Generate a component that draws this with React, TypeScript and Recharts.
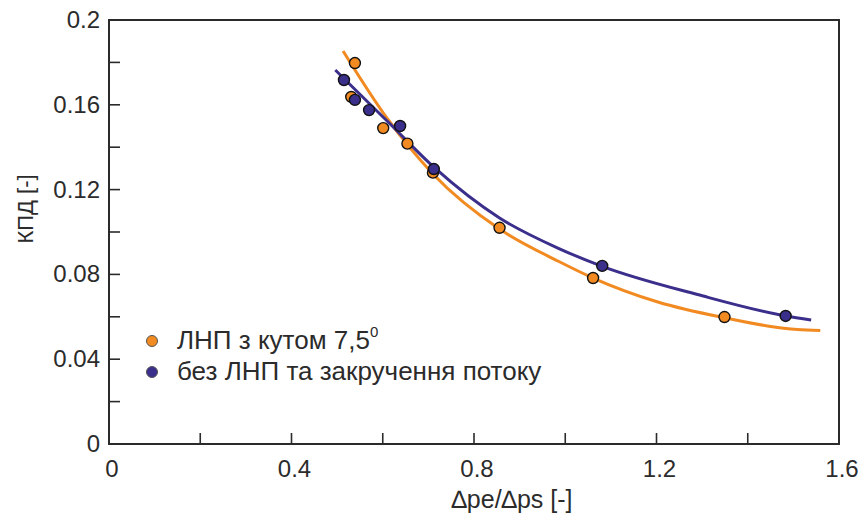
import {
  ComposedChart,
  Line,
  Scatter,
  XAxis,
  YAxis,
  ReferenceArea,
  Label,
} from 'recharts';

// measured points, series 1: ЛНП з кутом 7,5°
const orangeX = [0.539, 0.531, 0.601, 0.654, 0.71, 0.856, 1.061, 1.349];
const orangeY = [0.1797, 0.1637, 0.149, 0.1417, 0.128, 0.102, 0.0783, 0.0599];

// measured points, series 2: без ЛНП та закручення потоку
const blueX = [0.515, 0.539, 0.57, 0.638, 0.712, 1.081, 1.483];
const blueY = [0.1717, 0.1623, 0.1575, 0.15, 0.1297, 0.084, 0.0604];

// fitted curves
const orangeFitX = [0.513, 0.609, 0.71, 0.856, 0.985, 1.061, 1.203, 1.352, 1.443, 1.509, 1.559];
const orangeFitY = [0.1854, 0.1538, 0.1274, 0.1014, 0.0862, 0.0783, 0.067, 0.0594, 0.0557, 0.054, 0.0535];
const blueFitX = [0.496, 0.614, 0.714, 0.856, 0.985, 1.081, 1.29, 1.483, 1.539];
const blueFitY = [0.1764, 0.1514, 0.1302, 0.1066, 0.0923, 0.0838, 0.0705, 0.0604, 0.0585];

const xTicks = [0, 0.2, 0.4, 0.6, 0.8, 1.0, 1.2, 1.4, 1.6];
const yTicks = [0, 0.02, 0.04, 0.06, 0.08, 0.1, 0.12, 0.14, 0.16, 0.18, 0.2];

const seriesNames = ['ЛНП з кутом 7,5', 'без ЛНП та закручення потоку'];
const ORANGE = '#f28a22';
const BLUE = '#3b2f8c';
const FONT = '"Liberation Sans", Arial, sans-serif';
const INK = '#2b2b2b';

const zip = (xs: number[], ys: number[]) => xs.map((x, i) => ({ x, y: ys[i] }));

const orangePts = zip(orangeX, orangeY);
const bluePts = zip(blueX, blueY);
const orangeFit = zip(orangeFitX, orangeFitY);
const blueFit = zip(blueFitX, blueFitY);

// ticks point inwards, labels only on every second one
function YTick(props: any) {
  const { x, y, index, payload } = props;
  const v = payload.value as number;
  return (
    <g>
      <line x1={x} x2={x + 11} y1={y} y2={y} stroke={INK} strokeWidth={1.6} />
      {index % 2 === 0 && (
        <text x={x - 9} y={y} dy={8} textAnchor="end" fontSize={24} fill={INK} fontFamily={FONT}>
          {String(+v.toFixed(2))}
        </text>
      )}
    </g>
  );
}

function XTick(props: any) {
  const { x, y, index, payload } = props;
  const v = payload.value as number;
  return (
    <g>
      <line x1={x} x2={x} y1={y} y2={y - 11} stroke={INK} strokeWidth={1.6} />
      {index % 2 === 0 && (
        <text x={x + 3} y={y + 33} textAnchor="middle" fontSize={24} fill={INK} fontFamily={FONT}>
          {String(+v.toFixed(1))}
        </text>
      )}
    </g>
  );
}

function Dot(props: any) {
  const { cx, cy, fill } = props;
  return <circle cx={cx} cy={cy} r={5.5} fill={fill} stroke="#111" strokeWidth={1.4} />;
}

function LegendBox() {
  const colors = [ORANGE, BLUE];
  return (
    <div
      style={{
        position: 'absolute',
        left: 146,
        top: 325,
        fontFamily: FONT,
        fontSize: 26,
        color: INK,
        lineHeight: '31px',
        whiteSpace: 'nowrap',
      }}
    >
      {seriesNames.map((n, i) => (
        <div key={n} style={{ display: 'flex', alignItems: 'center' }}>
          <span
            style={{
              display: 'inline-block',
              width: 10,
              height: 10,
              borderRadius: '50%',
              background: colors[i],
              border: '0.5px solid #555',
              marginRight: 19,
            }}
          />
          <span>
            {n}
            {i === 0 && <sup style={{ fontSize: 15, verticalAlign: 12, lineHeight: 0 }}>0</sup>}
          </span>
        </div>
      ))}
    </div>
  );
}

export default function App() {
  return (
    <div style={{ position: 'absolute', left: 0, top: 0, width: 865, height: 519, background: '#fff' }}>
      <ComposedChart width={865} height={519} margin={{ top: 20, right: 26, bottom: 0, left: 0 }}>
        <XAxis
          type="number"
          dataKey="x"
          domain={[0, 1.6]}
          ticks={xTicks}
          interval={0}
          height={75}
          tickSize={0}
          tickMargin={0}
          tickLine={false}
          axisLine={false}
          tick={<XTick />}
          allowDataOverflow
        >
          <Label
            content={() => (
              <text x={512} y={508} textAnchor="middle" fontSize={25} fill={INK} fontFamily={FONT}>
                ∆pe/∆ps [-]
              </text>
            )}
          />
        </XAxis>
        <YAxis
          type="number"
          dataKey="y"
          domain={[0, 0.2]}
          ticks={yTicks}
          interval={0}
          width={109}
          tickSize={0}
          tickMargin={0}
          tickLine={false}
          axisLine={false}
          tick={<YTick />}
          allowDataOverflow
        >
          <Label
            content={() => (
              <text
                x={0}
                y={0}
                transform="translate(33 209) rotate(-90)"
                textAnchor="middle"
                fontSize={22}
                fill={INK}
                fontFamily={FONT}
              >
                КПД [-]
              </text>
            )}
          />
        </YAxis>
        <ReferenceArea x1={0} x2={1.6} y1={0} y2={0.2} fill="none" stroke={INK} strokeWidth={2} />
        <Line
          data={orangeFit}
          dataKey="y"
          type="monotone"
          stroke={ORANGE}
          strokeWidth={3}
          dot={false}
          isAnimationActive={false}
        />
        <Line
          data={blueFit}
          dataKey="y"
          type="monotone"
          stroke={BLUE}
          strokeWidth={3}
          dot={false}
          isAnimationActive={false}
        />
        <Scatter data={orangePts} dataKey="y" fill={ORANGE} shape={<Dot />} isAnimationActive={false} />
        <Scatter data={bluePts} dataKey="y" fill={BLUE} shape={<Dot />} isAnimationActive={false} />
      </ComposedChart>
      <LegendBox />
    </div>
  );
}
